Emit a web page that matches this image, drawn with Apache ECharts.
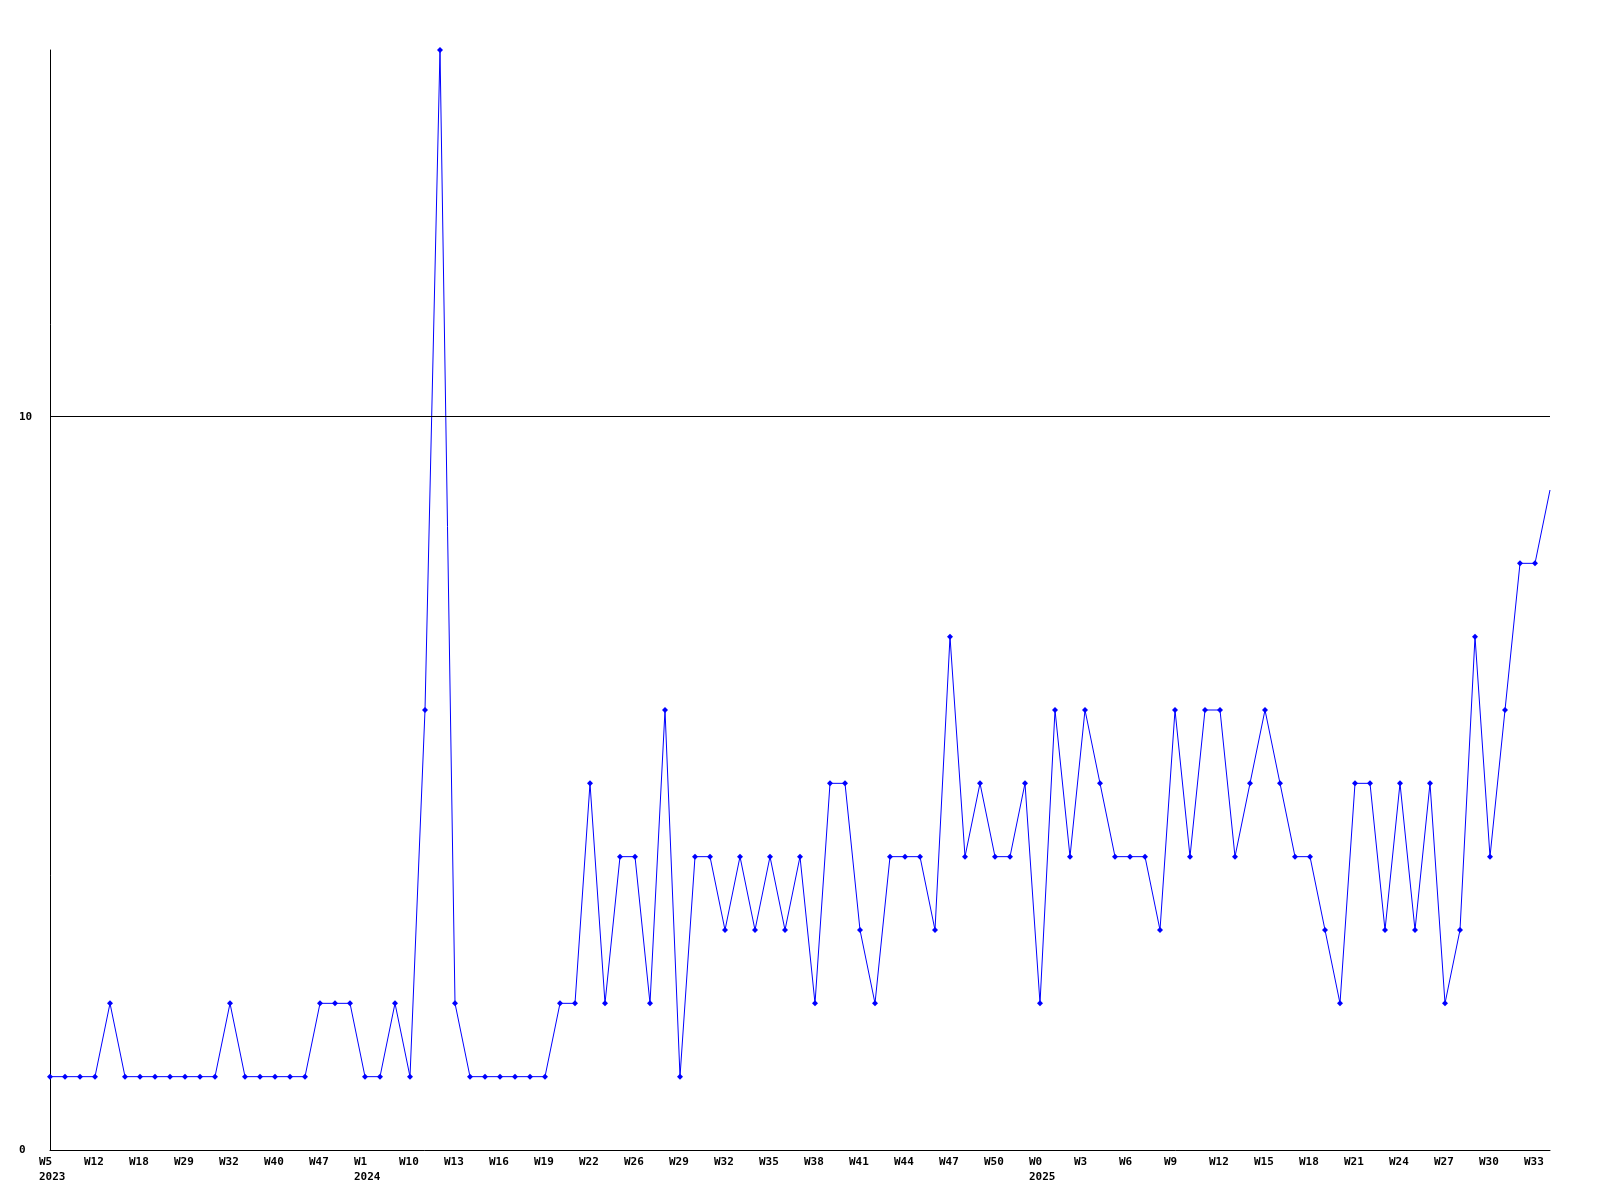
<!DOCTYPE html>
<html>
<head>
<meta charset="utf-8">
<script src="https://cdn.jsdelivr.net/npm/echarts@6/dist/echarts.min.js"></script>
<style>
html,body{margin:0;padding:0;background:#fff;}
#chart{width:1600px;height:1200px;}
</style>
</head>
<body>
<div id="chart"></div>
<script>
// Values per week (101 points)
const values = [
  1,1,1,1,2,1,1,1,1,1,
  1,1,2,1,1,1,1,1,2,2,
  2,1,1,2,1,6,15,2,1,1,
  1,1,1,1,2,2,5,2,4,4,
  2,6,1,4,4,3,4,3,4,3,
  4,2,5,5,3,2,4,4,4,3,
  7,4,5,4,4,5,2,6,4,6,
  5,4,4,4,3,6,4,6,6,4,
  5,6,5,4,4,3,2,5,5,3,
  5,3,5,2,3,7,4,6,8,8,
  9
];
// Tick labels shown on every third point
const tickLabels = [
  'W5\n2023','W12','W18','W29','W32','W40','W47','W1\n2024','W10','W13',
  'W16','W19','W22','W26','W29','W32','W35','W38','W41','W44',
  'W47','W50','W0\n2025','W3','W6','W9','W12','W15','W18','W21',
  'W24','W27','W30','W33'
];
const categories = values.map((v, i) => String(i));
const yTicks = [0, 10];

const chart = echarts.init(document.getElementById('chart'), null, {renderer: 'canvas'});
const font = {fontFamily: 'DejaVu Sans Mono', fontWeight: 'bold', fontSize: 11, color: '#000'};
chart.setOption({
  animation: false,
  backgroundColor: '#fff',
  grid: {left: 50, right: 50, top: 50, bottom: 50, containLabel: false},
  xAxis: {
    type: 'category',
    data: categories,
    boundaryGap: false,
    axisLine: {lineStyle: {color: '#000', width: 1}},
    axisTick: {show: false},
    splitLine: {show: false},
    axisLabel: Object.assign({}, font, {
      interval: 2,
      margin: 5,
      lineHeight: 15,
      align: 'left',
      padding: [0, 0, 0, -11],
      formatter: (v, i) => tickLabels[Math.round(i / 3)] || ''
    })
  },
  yAxis: {
    type: 'value',
    min: 0, max: 15, interval: 10,
    axisLine: {show: true, lineStyle: {color: '#000', width: 1}},
    axisTick: {show: false},
    splitLine: {show: false},
    axisLabel: Object.assign({}, font, {
      align: 'left',
      margin: 31,
      showMaxLabel: false,
      formatter: v => yTicks.includes(v) ? String(v) : ''
    })
  },
  series: [{
    type: 'line',
    data: values,
    color: '#0000ff',
    lineStyle: {color: '#0000ff', width: 1},
    itemStyle: {color: '#0000ff'},
    symbol: (v, p) => p.dataIndex === values.length - 1 ? 'none' : 'diamond',
    symbolSize: 6,
    showAllSymbol: true,
    clip: true,
    markLine: {
      silent: true,
      symbol: ['none', 'none'],
      label: {show: false},
      lineStyle: {color: '#000', width: 1, type: 'solid'},
      data: [{yAxis: 10}]
    }
  }]
});
</script>
</body>
</html>
